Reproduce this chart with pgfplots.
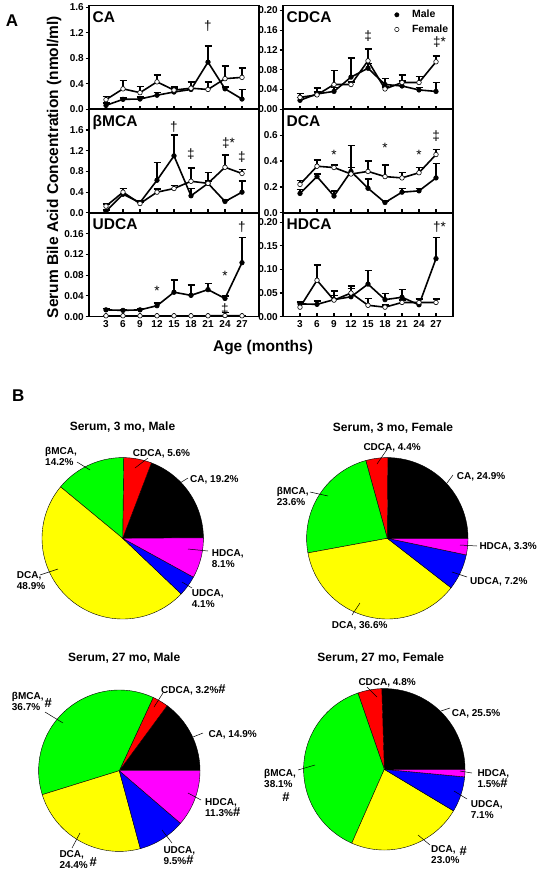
\documentclass[border=0pt]{standalone}
\usepackage{fontspec}
\setmainfont{Liberation Sans}
\usepackage{pgfplots}
\usepackage{pgfplotstable}
\pgfplotsset{compat=1.18}

\definecolor{pblack}{RGB}{0,0,0}
\definecolor{pred}{RGB}{255,0,0}
\definecolor{pgreen}{RGB}{0,255,0}
\definecolor{pyellow}{RGB}{255,255,0}
\definecolor{pblue}{RGB}{0,0,255}
\definecolor{pmag}{RGB}{255,0,255}

% ---------------- data: x (month), y (mean), e (upper error) ----------------
\pgfplotstableread{
x y e
3 0.06 0.04
6 0.155 0.02
9 0.16 0.03
12 0.22 0.04
15 0.27 0.06
18 0.31 0.12
21 0.74 0.25
24 0.32 0.03
27 0.16 0.15
}\CAm
\pgfplotstableread{
x y e
3 0.15 0.05
6 0.32 0.13
9 0.26 0.10
12 0.43 0.11
15 0.30 0.06
18 0.33 0.10
21 0.31 0.12
24 0.48 0.20
27 0.50 0.15
}\CAf
\pgfplotstableread{
x y e
3 0.018 0.006
6 0.031 0.012
9 0.036 0.008
12 0.065 0.039
15 0.083 0.010
18 0.050 0.012
21 0.047 0.010
24 0.039 0.005
27 0.036 0.018
}\CDCAm
\pgfplotstableread{
x y e
3 0.024 0.008
6 0.029 0.006
9 0.050 0.028
12 0.050 0.005
15 0.098 0.024
18 0.041 0.004
21 0.054 0.015
24 0.054 0.012
27 0.096 0.012
}\CDCAf
\pgfplotstableread{
x y e
3 0.03 0.03
6 0.36 0.11
9 0.20 0.03
12 0.63 0.34
15 1.10 0.40
18 0.33 0.14
21 0.57 0.21
24 0.22 0.03
27 0.40 0.22
}\BMCAm
\pgfplotstableread{
x y e
3 0.13 0.04
6 0.40 0.07
9 0.18 0.03
12 0.40 0.06
15 0.47 0.06
18 0.61 0.26
21 0.57 0.05
24 0.88 0.24
27 0.76 0.08
}\BMCAf
\pgfplotstableread{
x y e
3 0.15 0.03
6 0.28 0.02
9 0.13 0.04
12 0.32 0.20
15 0.19 0.07
18 0.08 0.01
21 0.16 0.03
24 0.17 0.02
27 0.27 0.11
}\DCAm
\pgfplotstableread{
x y e
3 0.22 0.03
6 0.36 0.05
9 0.35 0.02
12 0.30 0.05
15 0.32 0.08
18 0.28 0.09
21 0.27 0.04
24 0.31 0.04
27 0.45 0.04
}\DCAf
\pgfplotstableread{
x y e
3 0.013 0.003
6 0.012 0.002
9 0.013 0.002
12 0.021 0.005
15 0.047 0.024
18 0.041 0.020
21 0.052 0.012
24 0.035 0.005
27 0.104 0.049
}\UDCAm
\pgfplotstableread{
x y e
3 0.0015 0
6 0.0015 0
9 0.0015 0
12 0.0015 0
15 0.0015 0
18 0.0015 0
21 0.0015 0
24 0.002 0.006
27 0.0015 0
}\UDCAf
\pgfplotstableread{
x y e
3 0.027 0.004
6 0.026 0.007
9 0.036 0.009
12 0.042 0.023
15 0.069 0.029
18 0.036 0.013
21 0.041 0.017
24 0.025 0.012
27 0.123 0.045
}\HDCAm
\pgfplotstableread{
x y e
3 0.020 0.010
6 0.077 0.033
9 0.035 0.019
12 0.050 0.010
15 0.024 0.014
18 0.020 0.005
21 0.030 0.005
24 0.030 0.008
27 0.030 0.007
}\HDCAf

\pgfplotsset{
  panel/.style={
    scale only axis, width=170pt, height=103.7pt, anchor=north west,
    xmin=0, xmax=30, xtick={3,6,9,12,15,18,21,24,27}, xticklabels={},
    xtick pos=lower, ytick pos=left,
    xtick align=inside, ytick align=outside,
    major tick length=3.5pt,
    axis line style={line width=1.5pt},
    every tick/.append style={line width=1.2pt, black},
    tick label style={font=\fontsize{10}{12}\selectfont\bfseries},
    yticklabel style={inner sep=1.5pt},
    /pgf/number format/assume math mode=true,
    clip=false,
  },
  bottom/.style={xticklabels={3,6,9,12,15,18,21,24,27}},
  p1/.style={yticklabel style={/pgf/number format/fixed, /pgf/number format/fixed zerofill, /pgf/number format/precision=1}},
  p2/.style={yticklabel style={/pgf/number format/fixed, /pgf/number format/fixed zerofill, /pgf/number format/precision=2}},
  errs/.style={error bars/.cd, y dir=plus, y explicit, error bar style={line width=1.5pt}, error mark options={rotate=90, line width=1.5pt, mark size=3.5pt}},
  male/.style={black, line width=1.6pt, mark=*, mark size=2.3pt, mark options={solid, fill=black, line width=0.6pt}, forget plot, errs},
  female/.style={black, line width=1.6pt, mark=*, mark size=2.3pt, mark options={solid, fill=white, line width=0.6pt}, forget plot, errs},
  pie/.style={hide axis, scale only axis, width=161.4pt, height=161.4pt, xmin=-1, xmax=1, ymin=-1, ymax=1, anchor=center, clip=false},
}
\tikzset{
  pname/.style={anchor=north west, inner sep=0pt, xshift=3.5pt, yshift=-6pt, font=\fontsize{15.5}{16}\selectfont\bfseries},
  ann/.style={inner sep=0pt, font=\fontsize{13.5}{14}\selectfont},
  pl/.style={font=\fontsize{10}{11}\selectfont\bfseries, inner sep=0pt, align=left},
  ptitle/.style={font=\fontsize{12}{13}\selectfont\bfseries, inner sep=0pt},
  lead/.style={line width=0.5pt},
}
\newcommand\hs{{\fontsize{13}{13}\selectfont\#}}

% pie slice: percentage, colour (angles accumulate from 0 deg, counter-clockwise)
\def\cum{0}
\newcommand\slice[2]{%
  \pgfmathsetmacro\sA{\cum*3.6}%
  \pgfmathsetmacro\cumnew{\cum+#1}%
  \pgfmathsetmacro\sB{\cumnew*3.6}%
  \global\let\cum\cumnew
  \edef\doslice{\noexpand\addplot[draw=black, line width=0.4pt, fill=#2, domain=\sA:\sB, samples=60] ({cos(x)},{sin(x)}) -- (axis cs:0,0) -- cycle;}%
  \doslice}

\begin{document}
\begin{tikzpicture}
\path[use as bounding box] (0pt,0pt) rectangle (539pt,-872pt);

% ================= Panel A =================
\node[anchor=base, inner sep=0, font=\fontsize{17}{17}\selectfont\bfseries] at (12pt,-27pt) {A};

\begin{axis}[panel, p1, at={(89pt,-5.5pt)}, ymin=0, ymax=1.63, ytick={0,0.4,0.8,1.2,1.6}]
\addplot[male] table[x=x,y=y,y error plus=e]{\CAm};
\addplot[female] table[x=x,y=y,y error plus=e]{\CAf};
\node[pname] at (rel axis cs:0,1) {CA};
\node[ann] at (axis cs:21,1.31) {†};
\end{axis}

\begin{axis}[panel, p1, at={(89pt,-109.2pt)}, ymin=0, ymax=2.0, ytick={0,0.4,0.8,1.2,1.6}]
\addplot[male] table[x=x,y=y,y error plus=e]{\BMCAm};
\addplot[female] table[x=x,y=y,y error plus=e]{\BMCAf};
\node[pname] at (rel axis cs:0,1) {βMCA};
\node[ann] at (axis cs:15,1.66) {†};
\node[ann] at (axis cs:18,1.13) {‡};
\node[ann] at (axis cs:24.6,1.35) {‡*};
\node[ann] at (axis cs:27,1.08) {‡};
\end{axis}

\begin{axis}[panel, p2, bottom, at={(89pt,-212.9pt)}, ymin=0, ymax=0.2, ytick={0,0.04,0.08,0.12,0.16}]
\addplot[male] table[x=x,y=y,y error plus=e]{\UDCAm};
\addplot[female] table[x=x,y=y,y error plus=e]{\UDCAf};
\node[pname] at (rel axis cs:0,1) {UDCA};
\node[ann] at (axis cs:12,0.050) {*};
\node[ann] at (axis cs:24,0.079) {*};
\node[ann] at (axis cs:27,0.172) {†};
\node[ann] at (axis cs:24,0.014) {‡};
\end{axis}

\begin{axis}[panel, p2, at={(283pt,-5.5pt)}, ymin=0, ymax=0.21, ytick={0,0.04,0.08,0.12,0.16,0.20},
  legend style={draw=none, fill=none, at={(0.985,0.975)}, anchor=north east, font=\fontsize{10.5}{12}\selectfont\bfseries, inner sep=0pt, row sep=1.5pt},
  legend cell align=left]
\addplot[male] table[x=x,y=y,y error plus=e]{\CDCAm};
\addplot[female] table[x=x,y=y,y error plus=e]{\CDCAf};
\addlegendimage{legend image code/.code={\path (0pt,0pt) (15pt,0pt); \draw[only marks, mark=*, mark size=2.2pt, mark options={fill=black, draw=black}] plot coordinates {(2pt,0pt)};}}
\addlegendentry{Male}
\addlegendimage{legend image code/.code={\path (0pt,0pt) (15pt,0pt); \draw[only marks, mark=*, mark size=2.2pt, mark options={fill=white, draw=black, line width=0.5pt}] plot coordinates {(2pt,0pt)};}}
\addlegendentry{Female}
\node[pname] at (rel axis cs:0,1) {CDCA};
\node[ann] at (axis cs:15,0.149) {‡};
\node[ann] at (axis cs:27.6,0.135) {‡*};
\end{axis}

\begin{axis}[panel, p1, at={(283pt,-109.2pt)}, ymin=0, ymax=0.8, ytick={0,0.2,0.4,0.6}]
\addplot[male] table[x=x,y=y,y error plus=e]{\DCAm};
\addplot[female] table[x=x,y=y,y error plus=e]{\DCAf};
\node[pname] at (rel axis cs:0,1) {DCA};
\node[ann] at (axis cs:9,0.445) {*};
\node[ann] at (axis cs:18,0.505) {*};
\node[ann] at (axis cs:24,0.445) {*};
\node[ann] at (axis cs:27,0.595) {‡};
\end{axis}

\begin{axis}[panel, p2, bottom, at={(283pt,-212.9pt)}, ymin=0, ymax=0.22, ytick={0,0.05,0.10,0.15,0.20}]
\addplot[male] table[x=x,y=y,y error plus=e]{\HDCAm};
\addplot[female] table[x=x,y=y,y error plus=e]{\HDCAf};
\node[pname] at (rel axis cs:0,1) {HDCA};
\node[ann] at (axis cs:27.6,0.19) {†*};
\end{axis}

\node[rotate=90, anchor=base, inner sep=0, font=\fontsize{15.5}{16}\selectfont\bfseries] at (58pt,-167pt) {Serum Bile Acid Concentration (nmol/ml)};
\node[anchor=base, inner sep=0, font=\fontsize{15.5}{16}\selectfont\bfseries] at (263pt,-351pt) {Age (months)};

% ================= Panel B =================
\node[anchor=base, inner sep=0, font=\fontsize{17}{17}\selectfont\bfseries] at (18.3pt,-401.7pt) {B};

% Serum, 3 mo, Male
\gdef\cum{0}
\begin{axis}[pie, at={(122.7pt,-538.3pt)}]
\slice{19.2}{pblack}
\slice{5.6}{pred}
\slice{14.2}{pgreen}
\slice{48.9}{pyellow}
\slice{4.1}{pblue}
\slice{8.1}{pmag}
\end{axis}
\node[ptitle] at (122.5pt,-426.7pt) {Serum, 3 mo, Male};
\node[pl, anchor=north west] at (45pt,-446.7pt) {βMCA,\\14.2\%};
\draw[lead] (77pt,-462pt) -- (90pt,-470pt);
\node[pl, anchor=north west] at (132.7pt,-449.3pt) {CDCA, 5.6\%};
\draw[lead] (148pt,-458pt) -- (135pt,-468pt);
\node[pl, anchor=north west] at (190pt,-475pt) {CA, 19.2\%};
\draw[lead] (188pt,-478pt) -- (180pt,-483pt);
\node[pl, anchor=north west] at (211.7pt,-549.3pt) {HDCA,\\8.1\%};
\draw[lead] (208pt,-551pt) -- (188pt,-549pt);
\node[pl, anchor=north west] at (191.7pt,-589.3pt) {UDCA,\\4.1\%};
\draw[lead] (192pt,-588pt) -- (182pt,-582pt);
\node[pl, anchor=north west] at (16.7pt,-571.7pt) {DCA,\\48.9\%};
\draw[lead] (40pt,-575pt) -- (58pt,-569pt);

% Serum, 3 mo, Female
\gdef\cum{0}
\begin{axis}[pie, at={(387.3pt,-538.3pt)}]
\slice{24.9}{pblack}
\slice{4.4}{pred}
\slice{23.6}{pgreen}
\slice{36.6}{pyellow}
\slice{7.2}{pblue}
\slice{3.3}{pmag}
\end{axis}
\node[ptitle] at (393pt,-427.7pt) {Serum, 3 mo, Female};
\node[pl, anchor=north west] at (363.3pt,-443.3pt) {CDCA, 4.4\%};
\draw[lead] (388pt,-448pt) -- (377pt,-464pt);
\node[pl, anchor=north west] at (456.7pt,-472.3pt) {CA, 24.9\%};
\draw[lead] (453pt,-475pt) -- (447pt,-483pt);
\node[pl, anchor=north west] at (276.7pt,-486.7pt) {βMCA,\\23.6\%};
\draw[lead] (310pt,-492pt) -- (328pt,-496pt);
\node[pl, anchor=north west] at (479.3pt,-542pt) {HDCA, 3.3\%};
\draw[lead] (477pt,-546pt) -- (460pt,-545pt);
\node[pl, anchor=north west] at (470pt,-577.3pt) {UDCA, 7.2\%};
\draw[lead] (467pt,-577pt) -- (452pt,-572pt);
\node[pl, anchor=north west] at (331.7pt,-621pt) {DCA, 36.6\%};
\draw[lead] (352pt,-615pt) -- (360pt,-603pt);

% Serum, 27 mo, Male
\gdef\cum{0}
\begin{axis}[pie, at={(119.3pt,-770.7pt)}]
\slice{14.9}{pblack}
\slice{3.2}{pred}
\slice{36.7}{pgreen}
\slice{24.4}{pyellow}
\slice{9.5}{pblue}
\slice{11.3}{pmag}
\end{axis}
\node[ptitle] at (124.2pt,-658.3pt) {Serum, 27 mo, Male};
\node[pl, anchor=north west] at (11.7pt,-691.7pt) {βMCA,\\36.7\%};
\node[inner sep=0] at (48.3pt,-703pt) {\bfseries\hs};
\draw[lead] (45pt,-712pt) -- (63pt,-723pt);
\node[pl, anchor=north west] at (161pt,-684pt) {CDCA, 3.2\%\hs};
\draw[lead] (163pt,-693pt) -- (154pt,-707pt);
\node[pl, anchor=north west] at (208.3pt,-730pt) {CA, 14.9\%};
\draw[lead] (203pt,-733pt) -- (193pt,-737pt);
\node[pl, anchor=north west] at (205pt,-798.3pt) {HDCA,\\11.3\%\hs};
\draw[lead] (201pt,-800pt) -- (188pt,-793pt);
\node[pl, anchor=north west] at (163.3pt,-846pt) {UDCA,\\9.5\%\hs};
\draw[lead] (172pt,-843pt) -- (162pt,-830pt);
\node[pl, anchor=north west] at (59.3pt,-850.7pt) {DCA,\\24.4\%};
\node[inner sep=0] at (93.3pt,-861.7pt) {\bfseries\hs};
\draw[lead] (72pt,-848pt) -- (80pt,-833pt);

% Serum, 27 mo, Female
\gdef\cum{0}
\begin{axis}[pie, at={(384.3pt,-769.3pt)}]
\slice{25.5}{pblack}
\slice{4.8}{pred}
\slice{38.1}{pgreen}
\slice{23.0}{pyellow}
\slice{7.1}{pblue}
\slice{1.5}{pmag}
\end{axis}
\node[ptitle] at (380.8pt,-658.3pt) {Serum, 27 mo, Female};
\node[pl, anchor=north west] at (358.3pt,-678.3pt) {CDCA, 4.8\%};
\draw[lead] (367pt,-687pt) -- (377pt,-697pt);
\node[pl, anchor=north west] at (451.7pt,-709pt) {CA, 25.5\%};
\draw[lead] (450pt,-708pt) -- (441pt,-711pt);
\node[pl, anchor=north west] at (264pt,-769.3pt) {βMCA,\\38.1\%};
\node[inner sep=0] at (286pt,-797pt) {\bfseries\hs};
\draw[lead] (298pt,-770pt) -- (315pt,-765pt);
\node[pl, anchor=north west] at (477.3pt,-769pt) {HDCA,\\1.5\%\hs};
\draw[lead] (472pt,-773pt) -- (460pt,-771pt);
\node[pl, anchor=north west] at (470.7pt,-800pt) {UDCA,\\7.1\%};
\draw[lead] (467pt,-799pt) -- (454pt,-791pt);
\node[pl, anchor=north west] at (431pt,-845pt) {DCA,\\23.0\%};
\node[inner sep=0] at (463.3pt,-850.7pt) {\bfseries\hs};
\draw[lead] (430pt,-845pt) -- (418pt,-835pt);

\end{tikzpicture}
\end{document}
